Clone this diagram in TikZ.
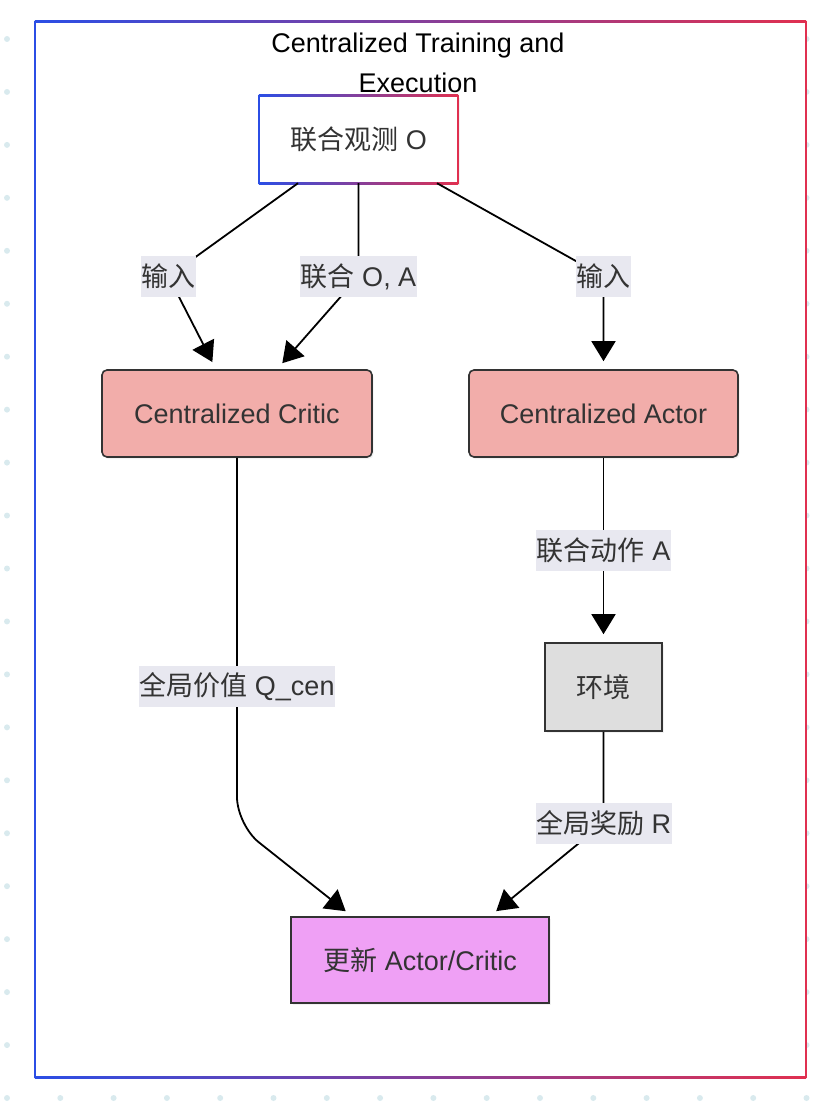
\documentclass[tikz,border=0pt]{standalone}
\usepackage{fontspec}
\setmainfont{Liberation Sans}
\newfontfamily\cjk{Noto Sans CJK SC}
\usetikzlibrary{arrows.meta,shadows}

\definecolor{frameblue}{HTML}{2B4EE5}
\definecolor{framered}{HTML}{E03050}
\definecolor{dotcol}{HTML}{D9EAEE}
\definecolor{txt}{HTML}{333333}
\definecolor{critfill}{HTML}{F2ADAA}
\definecolor{envfill}{HTML}{DEDEDE}
\definecolor{updfill}{HTML}{EFA0F5}
\definecolor{lblbg}{HTML}{E8E8F0}

\newcommand{\zh}[1]{{\cjk #1}}
% gradient border, blue on the left and red on the right
\newcommand{\gradborder}[1]{%
  \shade[left color=frameblue,right color=framered] ([yshift=1pt]#1.north west) rectangle ([yshift=-1pt]#1.north east);
  \shade[left color=frameblue,right color=framered] ([yshift=1pt]#1.south west) rectangle ([yshift=-1pt]#1.south east);
  \fill[frameblue] ([xshift=-1pt,yshift=1pt]#1.north west) rectangle ([xshift=1pt,yshift=-1pt]#1.south west);
  \fill[framered] ([xshift=-1pt,yshift=1pt]#1.north east) rectangle ([xshift=1pt,yshift=-1pt]#1.south east);
}

\tikzset{
  box/.style={draw=txt,line width=1.6pt,text=txt,inner sep=0pt,
    font=\fontsize{27}{32}\selectfont,
    drop shadow={shadow xshift=1.5pt,shadow yshift=-2pt,opacity=0.1}},
  lbl/.style={sharp corners,fill=lblbg,text=txt,inner xsep=0.5pt,inner ysep=0pt,
    minimum height=41pt,font=\fontsize{27}{32}\selectfont},
  edge/.style={line width=1.8pt,-{Triangle[length=20pt,width=24pt]},shorten >=8pt},
}

\begin{document}
\begin{tikzpicture}[x=1pt,y=-1pt]
  \useasboundingbox (0,0) rectangle (834,1108);
  \foreach \i in {0,...,15}
    \foreach \j in {0,...,20}
      \fill[dotcol] (7+53.3*\i,39+52.95*\j) circle (3pt);

  % subgraph frame
  \node[fill=white,inner sep=0pt,minimum width=771pt,minimum height=1055pt] at (420.5,549.5) (group) {};
  \gradborder{group}
  \node[align=center,font=\fontsize{27}{40}\selectfont] at (418,63) (title)
    {Centralized Training and\\Execution};

  \node[fill=white,inner sep=0pt,minimum width=199pt,minimum height=87pt,text=txt,
    font=\fontsize{27}{32}\selectfont,
    drop shadow={shadow xshift=1.5pt,shadow yshift=-2pt,opacity=0.1}] at (358.5,139.5) (obs) {\zh{联合观测} O};
  \gradborder{obs}
  \node[box,fill=critfill,rounded corners=5pt,minimum width=270pt,minimum height=87pt] at (237,413.5) (critic) {Centralized Critic};
  \node[box,fill=critfill,rounded corners=5pt,minimum width=269pt,minimum height=87pt] at (603.5,413.5) (actor) {Centralized Actor};
  \node[box,fill=envfill,minimum width=117pt,minimum height=88pt] at (603.5,687) (env) {\zh{环境}};
  \node[box,fill=updfill,minimum width=258pt,minimum height=86pt] at (420,960) (update) {\zh{更新} Actor/Critic};

  \draw[edge] ([xshift=-60.5pt]obs.south) -- (168.5,276.5) node[lbl] (in1) {\zh{输入}} -- ([xshift=-21pt]critic.north);
  \draw[edge] (obs.south) -- (358.5,276.5) node[lbl] (joint) {\zh{联合} O, A} -- ([xshift=40pt]critic.north);
  \draw[edge] ([xshift=78.5pt]obs.south) -- (603.5,276.5) node[lbl] (in2) {\zh{输入}} -- (actor.north);
  \draw[edge] (actor.south) -- (603.5,550) node[lbl] (act) {\zh{联合动作} A} -- (env.north);
  \draw[edge,rounded corners=28pt] (critic.south) -- (237,686.5) node[lbl] (qval) {\zh{全局价值} Q\_cen}
    -- (237,825) -- ([xshift=-68pt]update.north);
  \draw[edge] (env.south) -- (603.5,823) node[lbl] (rew) {\zh{全局奖励} R} -- ([xshift=70pt]update.north);
\end{tikzpicture}
\end{document}
